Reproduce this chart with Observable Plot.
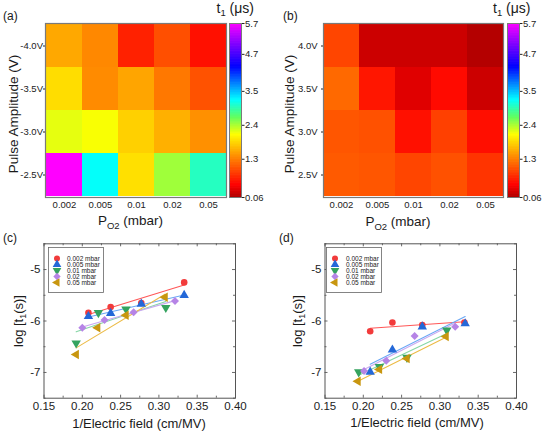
<!DOCTYPE html>
<html>
<head>
<meta charset="utf-8">
<script src="https://cdn.jsdelivr.net/npm/d3@7"></script>
<script src="https://cdn.jsdelivr.net/npm/@observablehq/plot@0.6"></script>
<style>
  body { margin: 0; background: #fff; }
  #fig { position: relative; width: 542px; height: 432px; overflow: hidden; background: #fff;
         font-family: "Liberation Sans", Arial, Helvetica, sans-serif; }
  #fig svg { overflow: visible; }
</style>
</head>
<body>
<div id="fig"></div>
<script>
// ---- Heat maps: relaxation time t1 (µs) vs O2 partial pressure and pulse amplitude ----
const pressures = ["0.002", "0.005", "0.01", "0.02", "0.05"];
const amplitudesNeg = ["-4.0V", "-3.5V", "-3.0V", "-2.5V"];
const amplitudesPos = ["4.0V", "3.5V", "3.0V", "2.5V"];

// rows follow the amplitude order above, columns follow the pressure order
const t1Neg = [
  [1.55, 1.35, 0.67, 0.98, 0.56],
  [1.88, 1.37, 1.53, 1.25, 1.00],
  [2.18, 2.11, 1.80, 1.60, 1.40],
  [5.70, 3.20, 1.90, 2.43, 3.00]
];
const t1Pos = [
  [0.91, 0.20, 0.20, 0.20, 0.08],
  [1.15, 0.60, 0.30, 0.52, 0.20],
  [1.02, 0.99, 0.56, 0.88, 0.55],
  [1.05, 1.02, 0.91, 0.99, 0.80]
];
const colorbarTicks = [0.06, 1.3, 2.4, 3.5, 4.7, 5.7];
const t1Range = [0.06, 5.7];

// ---- log t1 vs inverse electric field, one series per O2 pressure ----
const seriesLabels = ["0.002 mbar", "0.005 mbar", "0.01 mbar", "0.02 mbar", "0.05 mbar"];

const invFieldNeg = [
  [0.208, 0.237, 0.277, 0.333],
  [0.208, 0.237, 0.277, 0.333],
  [0.192, 0.221, 0.257, 0.309],
  [0.200, 0.229, 0.267, 0.321],
  [0.192, 0.220, 0.257, 0.308]
];
const logT1Neg = [
  [-5.84, -5.73, -5.65, -5.25],
  [-5.91, -5.85, -5.67, -5.50],
  [-6.43, -5.84, -5.77, -5.74],
  [-6.13, -5.98, -5.83, -5.61],
  [-6.65, -6.13, -5.89, -5.54]
];
const invFieldPos = [
  [0.209, 0.238, 0.277, 0.332],
  [0.209, 0.238, 0.277, 0.333],
  [0.194, 0.221, 0.257, 0.309],
  [0.201, 0.230, 0.267, 0.320],
  [0.193, 0.221, 0.257, 0.308]
];
const logT1Pos = [
  [-6.20, -6.03, -6.08, -6.03],
  [-6.99, -6.56, -6.11, -6.05],
  [-6.99, -6.89, -6.71, -6.18],
  [-6.97, -6.77, -6.29, -6.11],
  [-7.17, -6.94, -6.73, -6.30]
];

// ---- styling ----
const FONT = '"Liberation Sans", Arial, Helvetica, sans-serif';
const markerColors = ["#f23b3b", "#2468d8", "#35a35f", "#b684e6", "#c8960f"];
const lineColors = ["#ff5757", "#6ba8f5", "#86d6a6", "#c9a9f0", "#ecbb46"];

// triangle symbols pointing down / left (rotated copies of d3.symbolTriangle)
function rotatedTriangle(angle) {
  return {
    draw(context, size) {
      const y = -Math.sqrt(size / (Math.sqrt(3) * 3));
      const pts = [[0, y * 2], [-Math.sqrt(3) * y, -y], [Math.sqrt(3) * y, -y]].map(([px, py]) => [
        px * Math.cos(angle) - py * Math.sin(angle),
        px * Math.sin(angle) + py * Math.cos(angle)
      ]);
      context.moveTo(pts[0][0], pts[0][1]);
      context.lineTo(pts[1][0], pts[1][1]);
      context.lineTo(pts[2][0], pts[2][1]);
      context.closePath();
    }
  };
}
const symbols = ["circle", "triangle", rotatedTriangle(Math.PI), "diamond2", rotatedTriangle(-Math.PI / 2)];
const symbolRadius = [3.3, 3.5, 3.5, 3.6, 3.5];

// rainbow palette: dark red → red → orange → yellow → green → cyan → blue → violet → magenta
const rampStops = [0, 0.07, 0.22, 0.36, 0.46, 0.56, 0.75, 0.88, 1];
const rampColors = ["#b00000", "#ff0000", "#ff8000", "#ffff00", "#60ff60", "#00ffff", "#0000ff", "#8000ff", "#ff00ff"];
const rampScale = d3.scaleLinear().domain(rampStops).range(rampColors).interpolate(d3.interpolateRgb).clamp(true);
const rainbow = (t) => rampScale(t);
const colorScale = {type: "linear", domain: t1Range, interpolate: rainbow};

const fig = document.getElementById("fig");
function place(node, left, top) {
  node.style.position = "absolute";
  node.style.left = left + "px";
  node.style.top = top + "px";
  fig.appendChild(node);
}

function heatmap(values, rows, marginLeft, width, tickPadding) {
  const cells = rows.flatMap((a, i) => pressures.map((p, j) => ({p, a, t: values[i][j]})));
  return Plot.plot({
    width, height: 232,
    marginLeft, marginRight: 2, marginTop: 23, marginBottom: 35,
    style: {fontFamily: FONT, fontSize: "9.5px", color: "#222", background: "transparent"},
    x: {domain: pressures, padding: 0},
    y: {domain: rows, padding: 0},
    color: colorScale,
    marks: [
      Plot.cell(cells, {x: "p", y: "a", fill: "t", inset: 0, shapeRendering: "crispEdges"}),
      Plot.axisX({tickSize: 0, tickPadding: 4, label: null}),
      Plot.axisY({tickSize: 2, tickPadding, label: null}),
      Plot.frame({stroke: "#7a7a7a", strokeWidth: 1.2})
    ]
  });
}

function colorbar() {
  const step = 0.02;
  const ramp = d3.range(t1Range[0], t1Range[1], step);
  return Plot.plot({
    width: 40, height: 232,
    marginLeft: 0, marginRight: 28, marginTop: 23, marginBottom: 35,
    style: {fontFamily: FONT, fontSize: "9.5px", color: "#222", background: "transparent"},
    x: {domain: [0, 1], axis: null},
    y: {domain: t1Range},
    color: colorScale,
    marks: [
      Plot.rect(ramp, {x1: 0, x2: 1, y1: (d) => d, y2: (d) => Math.min(d + 2 * step, t1Range[1]),
                       fill: (d) => d + step / 2}),
      Plot.axisY({anchor: "right", ticks: colorbarTicks, tickFormat: (d) => String(d),
                  tickSize: 2.5, tickPadding: 1, label: null}),
      Plot.frame({stroke: "#7a7a7a", strokeWidth: 1})
    ]
  });
}

function scatter(xs, ys, marginLeft, marginRight) {
  const width = 271, height = 212, marginTop = 23.3, marginBottom = 34.3;
  const innerH = height - marginTop - marginBottom;
  const innerW = width - marginLeft - marginRight;
  const xMajor = [0.15, 0.20, 0.25, 0.30, 0.35, 0.40];
  const xMinor = [0.175, 0.225, 0.275, 0.325, 0.375];
  const yMajor = [-7, -6, -5];
  const yMinor = [-7.5, -6.5, -5.5, -4.5];
  const series = xs.map((col, k) => col.map((x, i) => ({x, y: ys[k][i]})));
  const tick = {stroke: "#444", strokeWidth: 0.8};
  return Plot.plot({
    width, height, marginLeft, marginRight, marginTop, marginBottom,
    style: {fontFamily: FONT, fontSize: "11.5px", color: "#222", background: "transparent"},
    x: {domain: [0.15, 0.40]},
    y: {domain: [-7.5, -4.5]},
    marks: [
      // inward tick marks on all four sides
      Plot.ruleX(xMajor, {...tick, insetTop: innerH - 3}),
      Plot.ruleX(xMinor, {...tick, insetTop: innerH - 2}),
      Plot.ruleX(xMajor, {...tick, insetBottom: innerH - 3}),
      Plot.ruleX(xMinor, {...tick, insetBottom: innerH - 2}),
      Plot.ruleY(yMajor, {...tick, insetRight: innerW - 3}),
      Plot.ruleY(yMinor, {...tick, insetRight: innerW - 2}),
      Plot.ruleY(yMajor, {...tick, insetLeft: innerW - 3}),
      Plot.ruleY(yMinor, {...tick, insetLeft: innerW - 2}),
      ...series.map((pts, k) => Plot.linearRegressionY(pts, {x: "x", y: "y", stroke: lineColors[k], strokeWidth: 1.1, ci: 0})),
      ...series.map((pts, k) => Plot.dot(pts, {x: "x", y: "y", symbol: symbols[k], fill: markerColors[k], r: symbolRadius[k]})),
      Plot.axisX({ticks: xMajor, tickSize: 0, tickPadding: 4, tickFormat: d3.format(".2f"), label: null}),
      Plot.axisY({ticks: yMajor, tickSize: 0, tickPadding: 3.5, tickFormat: (d) => String(d), label: null}),
      Plot.frame({stroke: "#555", strokeWidth: 1})
    ]
  });
}

function legend(textDx) {
  return Plot.plot({
    width: 55, height: 45, margin: 0,
    style: {fontFamily: FONT, fontSize: "6.5px", color: "#222", background: "#fff"},
    y: {type: "point", domain: seriesLabels, range: [5.6, 40], axis: null},
    marks: [
      ...seriesLabels.map((s, k) => Plot.dot([s], {y: (d) => d, frameAnchor: "left", dx: 8.5,
                                                   symbol: symbols[k], fill: markerColors[k], r: symbolRadius[k] - 0.3})),
      Plot.text(seriesLabels, {y: (d) => d, text: (d) => d, frameAnchor: "left", dx: textDx, textAnchor: "start"}),
      Plot.frame({stroke: "#666", strokeWidth: 0.8})
    ]
  });
}

place(heatmap(t1Neg, amplitudesNeg, 45, 228, 0.5), 0, 0);
place(colorbar(), 229, 0);
place(heatmap(t1Pos, amplitudesPos, 52, 234, 4), 271, 0);
place(colorbar(), 507, 0);
place(scatter(invFieldNeg, logT1Neg, 43.5, 36), 0, 220);
place(scatter(invFieldPos, logT1Pos, 53.5, 26), 271, 220);
place(legend(18.5), 48, 246.7);
place(legend(19.5), 325.5, 246.7);

// titles, panel letters and axis titles
const overlay = `
<svg width="542" height="432" style="position:absolute;left:0;top:0;pointer-events:none"
     font-family='${FONT}' fill="#1a1a1a">
  <g font-size="12">
    <text x="3" y="20">(a)</text>
    <text x="283" y="20">(b)</text>
    <text x="3" y="242">(c)</text>
    <text x="279" y="242">(d)</text>
  </g>
  <g font-size="14">
    <text x="216.5" y="13">t<tspan font-size="9.5" dy="3">1</tspan><tspan dy="-3"> (μs)</tspan></text>
    <text x="493" y="13">t<tspan font-size="9.5" dy="3">1</tspan><tspan dy="-3"> (μs)</tspan></text>
  </g>
  <g font-size="13.5" text-anchor="middle">
    <text transform="translate(17.5,114) rotate(-90)">Pulse Amplitude (V)</text>
    <text transform="translate(294,114) rotate(-90)">Pulse Amplitude (V)</text>
    <text x="130.5" y="225">P<tspan font-size="9.5" dy="3.5">O2</tspan><tspan dy="-3.5"> (mbar)</tspan></text>
    <text x="398" y="226">P<tspan font-size="9.5" dy="3.5">O2</tspan><tspan dy="-3.5"> (mbar)</tspan></text>
  </g>
  <g font-size="13" text-anchor="middle">
    <text transform="translate(22.8,321) rotate(-90)">log [t<tspan font-size="9" dy="3">1</tspan><tspan dy="-3">(s)]</tspan></text>
    <text transform="translate(302,321) rotate(-90)">log [t<tspan font-size="9" dy="3">1</tspan><tspan dy="-3">(s)]</tspan></text>
    <text x="139" y="427.5">1/Electric field (cm/MV)</text>
    <text x="417" y="426.5">1/Electric field (cm/MV)</text>
  </g>
</svg>`;
fig.insertAdjacentHTML("beforeend", overlay);
</script>
</body>
</html>
